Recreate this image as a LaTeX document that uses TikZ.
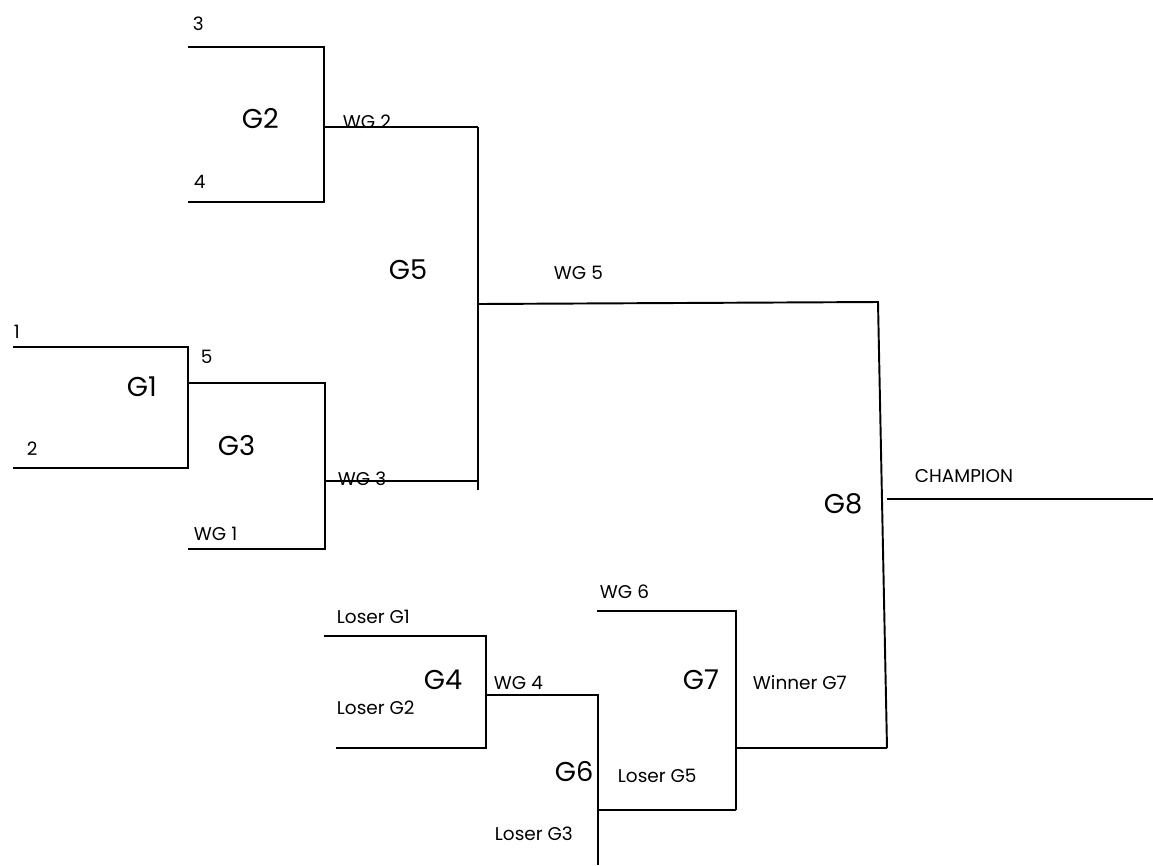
\documentclass[tikz,border=0pt]{standalone}
\usepackage{fontspec}
\setmainfont{Poppins}

\begin{document}
\begin{tikzpicture}[x=0.2mm, y=-0.2mm, line width=1.1pt,
    seedlabel/.style={anchor=base west, inner sep=0pt, font=\fontsize{10.5}{12}\selectfont},
    gamelabel/.style={anchor=base west, inner sep=0pt, font=\fontsize{15.5}{18}\selectfont}]

\useasboundingbox (0,0) rectangle (1153,865);

% Corner points of the bracket
\coordinate (g1a) at (13,347);  \coordinate (g1b) at (188,347);
\coordinate (g1c) at (188,468); \coordinate (g1d) at (13,468);
\coordinate (g2a) at (188,47);  \coordinate (g2b) at (324,47);
\coordinate (g2c) at (324,202); \coordinate (g2d) at (188,202);
\coordinate (g3a) at (188,383); \coordinate (g3b) at (325,383);
\coordinate (g3c) at (325,549); \coordinate (g3d) at (188,549);
\coordinate (g2out) at (324,127); \coordinate (g3out) at (325,481);
\coordinate (g5a) at (478,127); \coordinate (g5b) at (478,481);
\coordinate (g5c) at (478,490); \coordinate (g5out) at (478,304);
\coordinate (g8a) at (878,302); \coordinate (g8b) at (887,748);
\coordinate (g8out) at (887,499); \coordinate (champ) at (1153,499);
\coordinate (g4a) at (324,636); \coordinate (g4b) at (486,636);
\coordinate (g4c) at (486,748); \coordinate (g4d) at (336,748);
\coordinate (g4out) at (486,695);
\coordinate (g6a) at (598,695); \coordinate (g6b) at (598,865);
\coordinate (g6out) at (598,810);
\coordinate (g7a) at (597,611); \coordinate (g7b) at (736,611);
\coordinate (g7c) at (736,810); \coordinate (g7out) at (736,748);

% Winners side
\draw (g1a) -- (g1b) -- (g1c) -- (g1d);
\draw (g2a) -- (g2b) -- (g2c) -- (g2d);
\draw (g3a) -- (g3b) -- (g3c) -- (g3d);
\draw (g2out) -- (g5a);
\draw (g3out) -- (g5b);
\draw (g5a) -- (g5c);
\draw (g5out) -- (g8a) -- (g8b);
\draw (g8out) -- (champ);

% Losers side
\draw (g4a) -- (g4b) -- (g4c) -- (g4d);
\draw (g4out) -- (g6a) -- (g6b);
\draw (g6out) -- (g7c);
\draw (g7a) -- (g7b) -- (g7c);
\draw (g7out) -- (g8b);

% Seeds and entries
\node[seedlabel] (seed1) at (13,338) {1};
\node[seedlabel] (seed2) at (26,455) {2};
\node[seedlabel] (seed3) at (192,30) {3};
\node[seedlabel] (seed4) at (193,188) {4};
\node[seedlabel] (seed5) at (200,363) {5};
\node[seedlabel] (wg1) at (193,540) {WG 1};
\node[seedlabel] (wg2) at (342,128) {WG 2};
\node[seedlabel] (wg3) at (337,485) {WG 3};
\node[seedlabel] (wg4) at (493,689) {WG 4};
\node[seedlabel] (wg5) at (553,279) {WG 5};
\node[seedlabel] (wg6) at (599,598) {WG 6};
\node[seedlabel] (lg1) at (336,623) {Loser G1};
\node[seedlabel] (lg2) at (336,714) {Loser G2};
\node[seedlabel] (lg3) at (494,840) {Loser G3};
\node[seedlabel] (lg5) at (617,782) {Loser G5};
\node[seedlabel] (wing7) at (752,689) {Winner G7};
\node[seedlabel] (champion) at (914,482) {CHAMPION};

% Game numbers
\node[gamelabel] (G1) at (126,396) {G1};
\node[gamelabel] (G2) at (241,128) {G2};
\node[gamelabel] (G3) at (217,455) {G3};
\node[gamelabel] (G4) at (423,689) {G4};
\node[gamelabel] (G5) at (388,279) {G5};
\node[gamelabel] (G6) at (554,781) {G6};
\node[gamelabel] (G7) at (682,689) {G7};
\node[gamelabel] (G8) at (823,513) {G8};

\end{tikzpicture}
\end{document}
